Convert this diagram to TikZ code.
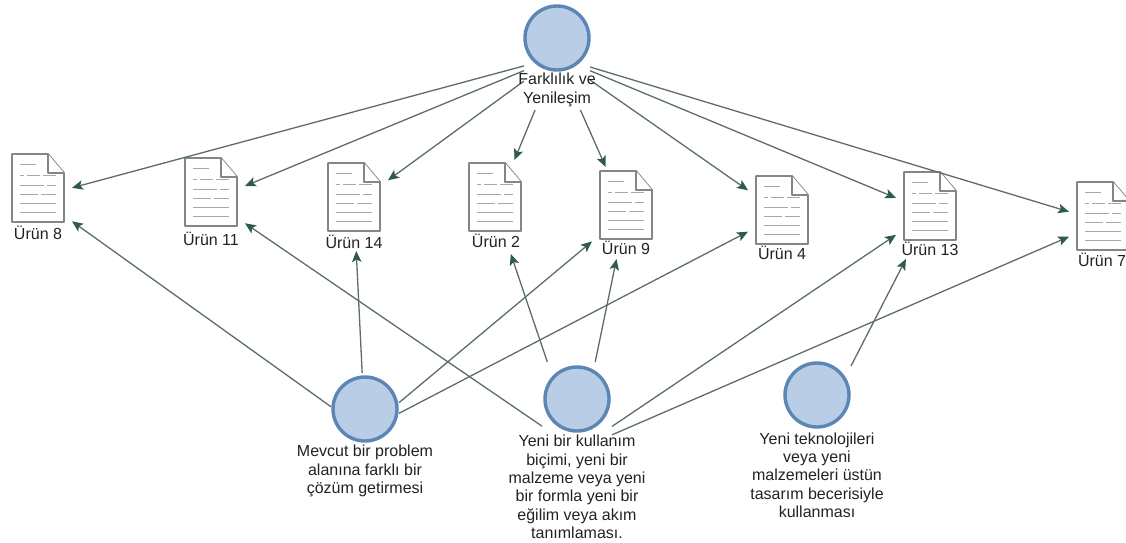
\documentclass[tikz,border=0pt]{standalone}
\usepackage{fontspec}
\setmainfont{Liberation Sans}
\usetikzlibrary{arrows.meta}
\definecolor{linkc}{HTML}{5A6E68}
\definecolor{tipc}{HTML}{2F5A50}
\definecolor{ringc}{HTML}{5B86B5}
\definecolor{fillc}{HTML}{BACDE6}
\definecolor{docc}{HTML}{858585}
\definecolor{docl}{HTML}{A8A8A8}
\definecolor{txtc}{HTML}{222222}
\tikzset{
  x=1pt,y=-1pt,
  docicon/.pic={
    \draw[docc,line width=1.8pt,fill=white,line join=round] (0,0)--(36,0)--(52,19)--(52,68)--(0,68)--cycle;
    \draw[docc,line width=1.8pt,line join=round,fill=white] (36,0)--(36,19)--(52,19);
    \draw[docl,line width=1pt]
      (8,10)--(24,10) (8,21)--(12,21) (15,21)--(28,21) (31,21)--(44,21)
      (8,31)--(32,31) (35,31)--(44,31) (8,40)--(26,40) (29,40)--(44,40)
      (8,49)--(44,49) (8,58)--(44,58);
  },
  hub/.style={circle,draw=ringc,line width=3.4pt,fill=fillc,minimum size=64pt,inner sep=0pt},
  zone/.style={rectangle,minimum width=#1,inner sep=0pt,outer sep=0pt},
  zone/.default=68pt,
  lab/.style={text=txtc,align=center,inner sep=0pt,font=\fontsize{16}{18.3}\selectfont},
  link/.style={draw=linkc,line width=1.3pt,-{Stealth[length=11pt,width=9.5pt,inset=2.5pt,color=tipc]}}
}
\newcommand{\docnode}[7]{% name, zone cx, zone cy, half-h, icon x, icon y, text
  \node[zone,minimum height=#4*2] (#1) at (#2,#3) {};
  \pic at (#5,#6) {docicon};
}
\begin{document}
\begin{tikzpicture}
\useasboundingbox (0,0) rectangle (1126,542);
% zones (icon plus label) that the connectors run between
\node[zone=66pt,minimum height=106pt] (t) at (557,57) {};
\node[zone=68pt,minimum height=116pt] (l) at (365,431) {};
\node[zone=70pt,minimum height=176pt] (m) at (577,450) {};
\node[zone=68pt,minimum height=140pt] (r) at (817,432) {};
\docnode{d8}{38}{197}{50}{12}{154}{}
\docnode{d11}{211}{200}{50}{185}{158}{}
\docnode{d14}{354}{205}{46}{328}{163}{}
\docnode{d2}{495}{207}{47}{469}{163}{}
\docnode{d9}{626}{213}{46}{600}{171}{}
\docnode{d4}{782}{214}{47}{756}{176}{}
\docnode{d13}{930}{212}{47}{904}{172}{}
\docnode{d7}{1103}{222}{47}{1077}{182}{}
% hubs
\node[hub] (ht) at (557,38) {};
\node[hub] (hl) at (365,409) {};
\node[hub] (hm) at (577,399) {};
\node[hub] (hr) at (817,395) {};
% connectors
\foreach \e in {d8,d11,d14,d2,d9,d4,d13,d7} \draw[link] (t) -- (\e);
\foreach \e in {d8,d14,d9,d4} \draw[link] (l) -- (\e);
\foreach \e in {d11,d2,d9,d13,d7} \draw[link] (m) -- (\e);
\draw[link] (r) -- (d13);
% labels
\node[lab] (lt) at (557,90) {Farklılık ve\\Yenileşim};
\node[lab] (ll) at (365,471) {Mevcut bir problem\\alanına farklı bir\\çözüm getirmesi};
\node[lab] (lm) at (577,487) {Yeni bir kullanım\\biçimi, yeni bir\\malzeme veya yeni\\bir formla yeni bir\\eğilim veya akım\\tanımlaması.};
\node[lab] (lr) at (817,475) {Yeni teknolojileri\\veya yeni\\malzemeleri üstün\\tasarım becerisiyle\\kullanması};
\node[lab] (l8) at (38,233) {Ürün 8};
\node[lab] (l11) at (211,239) {Ürün 11};
\node[lab] (l14) at (354,242) {Ürün 14};
\node[lab] (l2) at (496,241) {Ürün 2};
\node[lab] (l9) at (626,248) {Ürün 9};
\node[lab] (l4) at (782,253) {Ürün 4};
\node[lab] (l13) at (930,249) {Ürün 13};
\node[lab] (l7) at (1102,260) {Ürün 7};
\end{tikzpicture}
\end{document}
